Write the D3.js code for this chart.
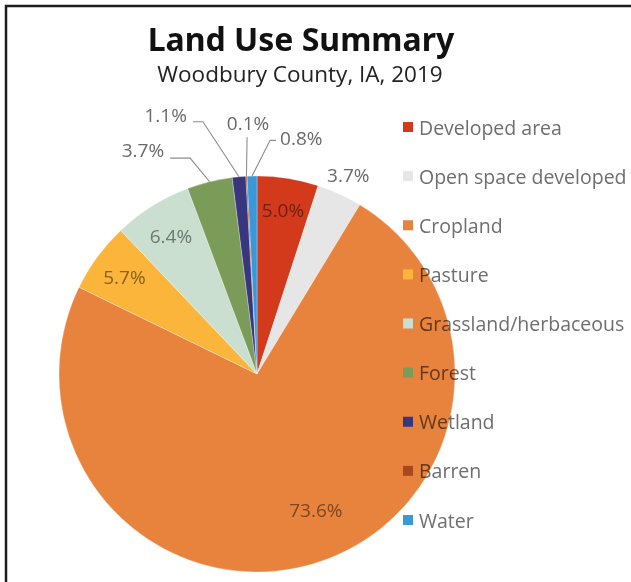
<!DOCTYPE html>
<html>
<head>
<meta charset="utf-8">
<script src="https://cdn.jsdelivr.net/npm/d3@7"></script>
<style>
  body { margin: 0; background: #fff; }
  svg { display: block; font-family: "Open Sans", "Noto Sans", sans-serif; }
</style>
</head>
<body>
<div id="chart"></div>
<script>
// land use shares, Woodbury County IA 2019
var categories = ['Developed area', 'Open space developed', 'Cropland', 'Pasture',
  'Grassland/herbaceous', 'Forest', 'Wetland', 'Barren', 'Water'];
var shares = [5.0, 3.7, 73.6, 5.7, 6.4, 3.7, 1.1, 0.1, 0.8];
var colors = ['#d3391b', '#e6e6e6', '#e8833e', '#fbb53a', '#cbdfd1',
  '#7b9b59', '#38367f', '#a9471f', '#3a98d8'];

var width = 631;
var height = 582;
var cx = 257, cy = 374;
var radius = 198;

// where each percent label goes
var labelPlace = [
  { type: 'in', k: 0.84 },
  { type: 'out', off: 21 },
  { type: 'in', k: 0.75, turn: -7 },
  { type: 'in', k: 0.83 },
  { type: 'in', k: 0.82 },
  { type: 'leader', ea: -17.2, er: 226, run: -20, dy: -8, gap: 6 },
  { type: 'leader', ea: -12.1, er: 258, run: -10, dy: -7, gap: 6 },
  { type: 'leader', ea: -2.4, er: 237, run: 0, dy: -14, gap: 0 },
  { type: 'leader', ea: 3.2, er: 234, run: 6, dy: -2, gap: 4 }
];

var data = categories.map(function(c, i) {
  return { label: c, value: shares[i], color: colors[i], place: labelPlace[i] };
});

var svg = d3.select('#chart')
  .append('svg')
  .attr('width', width)
  .attr('height', height);

svg.append('rect')
  .attr('width', width).attr('height', height)
  .attr('fill', '#fff');

// frame, runs off the right and bottom edges
svg.append('rect')
  .attr('x', 6).attr('y', 6)
  .attr('width', width + 20).attr('height', height + 20)
  .attr('fill', 'none')
  .attr('stroke', '#1e1e1e')
  .attr('stroke-width', 2.5);

svg.append('text')
  .attr('x', 301).attr('y', 51)
  .attr('text-anchor', 'middle')
  .style('font-family', '"Noto Sans", sans-serif')
  .style('font-weight', 'bold')
  .style('font-size', '32px')
  .attr('fill', '#111')
  .text('Land Use Summary');

svg.append('text')
  .attr('x', 300).attr('y', 82)
  .attr('text-anchor', 'middle')
  .style('font-size', '22.5px')
  .attr('fill', '#222')
  .text('Woodbury County, IA, 2019');

var pie = d3.pie()
  .value(function(d) { return d.value; })
  .sort(null);

var arc = d3.arc()
  .innerRadius(0)
  .outerRadius(radius);

var g = svg.append('g')
  .attr('transform', 'translate(' + cx + ',' + cy + ')');

var slices = pie(data);

g.selectAll('path')
  .data(slices)
  .enter()
  .append('path')
  .attr('d', arc)
  .attr('fill', function(d) { return d.data.color; })
  .attr('stroke', '#fff')
  .attr('stroke-width', 0.3);

var fmt = function(v) { return d3.format('.1f')(v) + '%'; };
var rad = Math.PI / 180;

slices.forEach(function(d) {
  var p = d.data.place;
  var mid = (d.startAngle + d.endAngle) / 2;
  var t;
  if (p.type === 'in' || p.type === 'out') {
    var r = p.type === 'in' ? radius * p.k : radius + p.off;
    var pt = d3.pointRadial(mid + (p.turn || 0) * rad, r);
    t = g.append('text')
      .attr('x', pt[0]).attr('y', pt[1])
      .attr('text-anchor', 'middle');
  } else {
    var a = d3.pointRadial(mid, radius);
    var e = d3.pointRadial(p.ea * rad, p.er);
    var b = [e[0] + p.run, e[1]];
    g.append('path')
      .attr('d', d3.line()([a, e, b]))
      .attr('fill', 'none')
      .attr('stroke', '#8c8c8c')
      .attr('stroke-width', 1.1);
    var anchor = p.run < 0 ? 'end' : (p.run > 0 ? 'start' : 'middle');
    var tx = b[0] + (p.run < 0 ? -p.gap : (p.run > 0 ? p.gap : 1));
    t = g.append('text')
      .attr('x', tx).attr('y', b[1] + p.dy)
      .attr('text-anchor', anchor);
  }
  t.attr('dominant-baseline', 'central')
    .style('font-size', '19px')
    .style('mix-blend-mode', 'multiply')
    .attr('fill', p.type === 'in' ? '#8a8a8a' : '#6a6a6a')
    .text(fmt(d.data.value));
});

// legend
var legendY = d3.scalePoint()
  .domain(categories)
  .range([127, 520]);

var legend = svg.append('g')
  .selectAll('g')
  .data(data)
  .enter()
  .append('g')
  .attr('transform', function(d) { return 'translate(403,' + legendY(d.label) + ')'; });

legend.append('rect')
  .attr('x', 0).attr('y', -5)
  .attr('width', 10).attr('height', 10)
  .attr('fill', function(d) { return d.color; });

legend.append('text')
  .attr('x', 16).attr('y', 0)
  .attr('dominant-baseline', 'central')
  .style('font-size', '19.5px')
  .style('mix-blend-mode', 'multiply')
  .attr('fill', '#6e6e6e')
  .text(function(d) { return d.label; });
</script>
</body>
</html>
